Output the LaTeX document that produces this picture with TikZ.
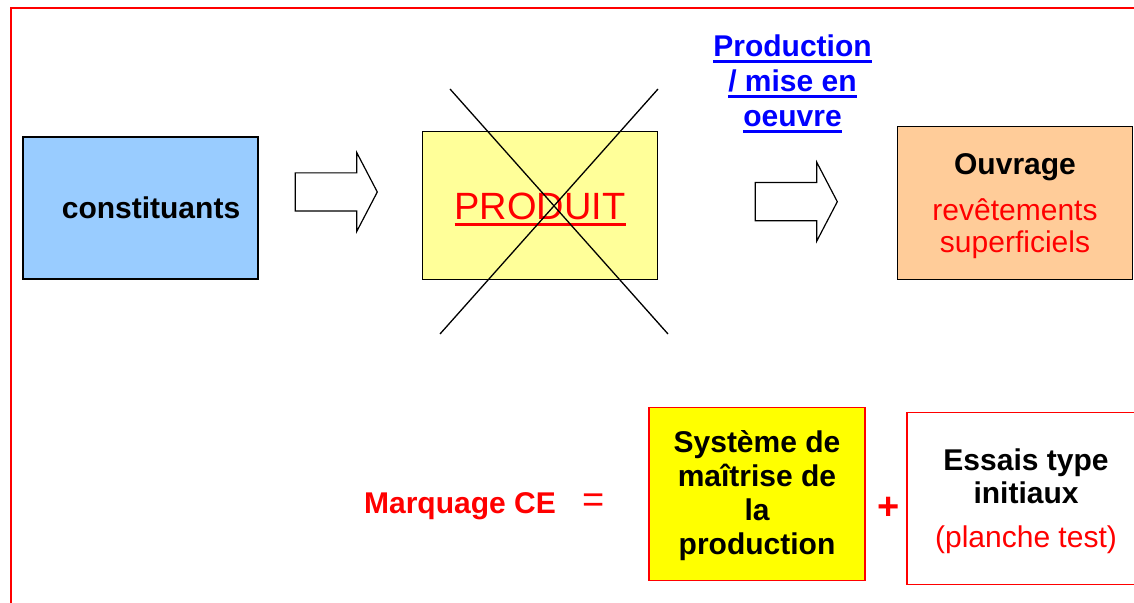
\documentclass[tikz,border=0pt]{standalone}
\usepackage{fontspec}
\setmainfont{Liberation Sans}
\usepackage{tikz}
\usetikzlibrary{positioning}

\definecolor{bleuclair}{HTML}{99CCFF}
\definecolor{jaunepale}{HTML}{FFFF99}
\definecolor{peche}{HTML}{FFCC99}
\definecolor{jaunevif}{HTML}{FFFF00}
\definecolor{rouge}{HTML}{FF0000}
\definecolor{bleulien}{HTML}{0000FF}

\newbox\soulbox
\newcommand{\souligne}[3]{\setbox\soulbox\hbox{#3}\leavevmode\rlap{\vrule height -#1 depth \dimexpr#1+#2\relax width \wd\soulbox}\box\soulbox}

\begin{document}
\begin{tikzpicture}[x=0.5pt, y=-0.5pt,
		boite/.style={draw, line width=0.6pt, inner sep=0pt, align=center},
		gras/.style={font=\bfseries\fontsize{15}{16.8}\selectfont},
		fleche/.style={draw, line width=0.6pt, fill=white}]
				\clip (0,0) rectangle (1134,603);
				% Cadre
				\draw [rouge, line width=1.15pt] (11,603) -- (11,7.7) -- (1134,7.7);
				
				% Ligne du haut
				\node [boite, gras, fill=bleuclair, minimum width=117.5pt, minimum height=71pt] (constit) at (140.5,208) {\hspace*{10.5pt}constituants};
				\node [boite, fill=jaunepale, minimum width=117.5pt, minimum height=73.8pt] (produit) at (540.2,205.5) {};
				\node [anchor=base, inner sep=0pt, text=rouge, font=\fontsize{19}{22}\selectfont] (produitTxt) at (540,219.3) {\souligne{1.7pt}{1.5pt}{PRODUIT}};
				\draw [line width=0.65pt] (450,89) -- (668,334);
				\draw [line width=0.65pt] (658,89) -- (440,334);
				\node [boite, fill=peche, minimum width=117.3pt, minimum height=76.3pt] (ouvrage) at (1015,203) {};
				\node [align=center, inner sep=0pt, font=\bfseries\fontsize{15}{15.8}\selectfont] (ouvrageTxt) at ([yshift=-1.6pt]ouvrage.center)
					{Ouvrage\\[7.4pt]\textcolor{rouge}{\mdseries revêtements}\\\textcolor{rouge}{\mdseries superficiels}};
				\node [align=center, inner sep=0pt, text=bleulien, font=\bfseries\fontsize{15}{17.5}\selectfont] (prodLbl) at (792.5,84)
					{\souligne{2pt}{1.5pt}{Production}\\\souligne{2pt}{1.5pt}{/ mise en}\\\souligne{2pt}{1.5pt}{oeuvre}};
				
				% Fleches
				\foreach \ax/\ay in {295.3/192, 755.3/201.7}
				{
					\draw [fleche] (\ax,\ay-19.1) -- (\ax+61.4,\ay-19.1) -- (\ax+61.4,\ay-39.5) -- (\ax+82,\ay)
						-- (\ax+61.4,\ay+39.5) -- (\ax+61.4,\ay+19.1) -- (\ax,\ay+19.1) -- cycle;
				}
				
				% Ligne du bas
				\node [anchor=base, inner sep=0pt, text=rouge, gras] (marquage) at (460,513) {Marquage CE};
				\node [inner sep=0pt, text=rouge, font=\fontsize{19}{22}\selectfont] (egal) at (594,503) {=};
				\node [boite, draw=rouge, fill=jaunevif, minimum width=108pt, minimum height=86.5pt] (systeme) at (757,493.8) {};
				\node [align=center, inner sep=0pt, font=\bfseries\fontsize{15}{17}\selectfont] (systemeTxt) at ([yshift=-0.8pt]systeme.center)
					{Système de\\maîtrise de\\la\\production};
				\node [inner sep=0pt, text=rouge, font=\bfseries\fontsize{19}{22}\selectfont] (plus) at (888.7,508) {+};
				\node [boite, draw=rouge, fill=white, minimum width=119pt, minimum height=85.9pt] (essais) at (1026,498.2) {};
				\node [align=center, inner sep=0pt, font=\bfseries\fontsize{15}{16.7}\selectfont] (essaisTxt) at ([yshift=-1.5pt]essais.center)
					{Essais type\\initiaux\\[5.5pt]\textcolor{rouge}{\mdseries(planche test)}};
				
			\end{tikzpicture}
\end{document}
